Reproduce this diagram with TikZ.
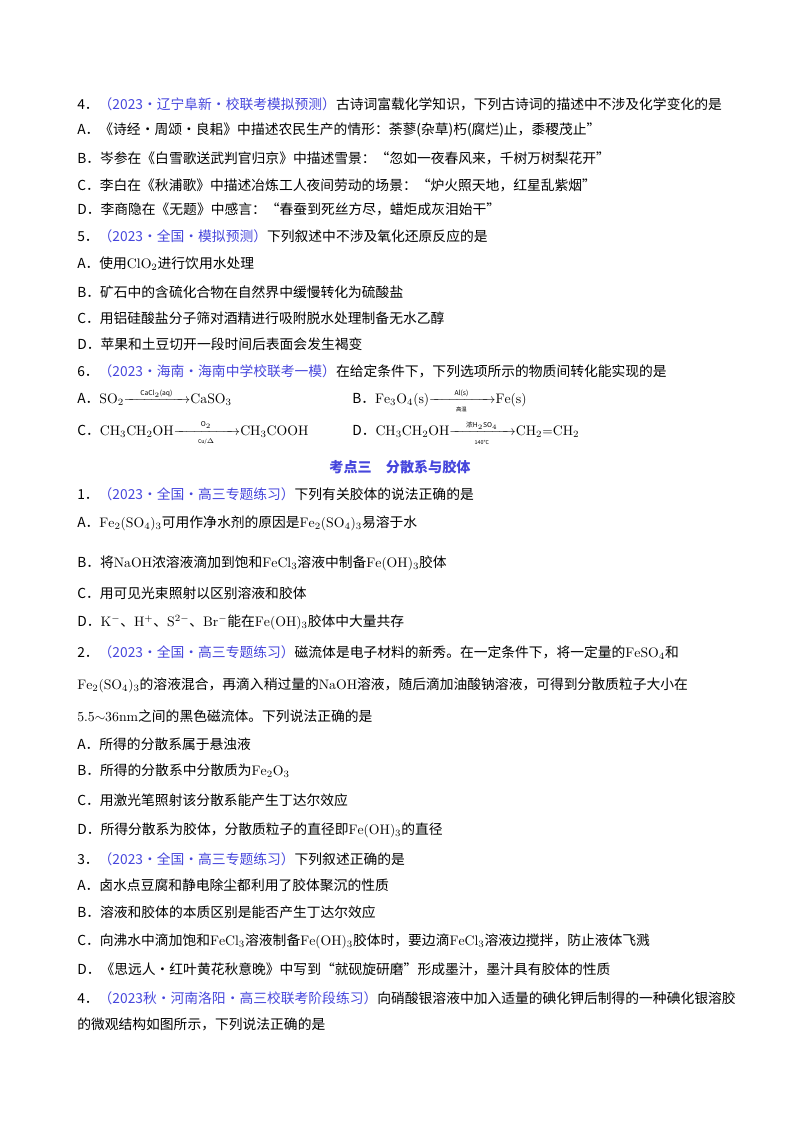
\documentclass[tikz,border=0pt]{standalone}
\usepackage{amsmath}
\usepackage{fontspec}
\newfontfamily\cjk{Noto Sans CJK SC}
\definecolor{src}{RGB}{70,70,220}
\newcommand{\sr}[1]{{\color{src}#1}}
\newcommand{\m}[1]{$\mathrm{#1}$}
\newcommand{\xr}[2]{$\xrightarrow[{\makebox[4.2em]{\cjk\fontsize{4}{4}\selectfont #2}}]{\makebox[4.2em]{\fontsize{5}{5}\selectfont #1}}$}
\begin{document}
\begin{tikzpicture}[x=0.74375pt,y=-0.74375pt,
 t/.style={anchor=west,inner sep=0pt,font=\cjk\fontsize{10.25}{12}\selectfont}]
\useasboundingbox (0,0) rectangle (800,1132);
\node[t] (l1) at (77,104) {4．\sr{（2023·辽宁阜新·校联考模拟预测）}古诗词富载化学知识，下列古诗词的描述中不涉及化学变化的是};
\node[t] (l2) at (77,130) {A．《诗经·周颂·良耜》中描述农民生产的情形：荼蓼(杂草)朽(腐烂)止，黍稷茂止”};
\node[t] (l3) at (77,158) {B．岑参在《白雪歌送武判官归京》中描述雪景：“忽如一夜春风来，千树万树梨花开”};
\node[t] (l4) at (77,185) {C．李白在《秋浦歌》中描述冶炼工人夜间劳动的场景：“炉火照天地，红星乱紫烟”};
\node[t] (l5) at (77,209) {D．李商隐在《无题》中感言：“春蚕到死丝方尽，蜡炬成灰泪始干”};
\node[t] (l6) at (77,236) {5．\sr{（2023·全国·模拟预测）}下列叙述中不涉及氧化还原反应的是};
\node[t] (l7) at (77,264) {A．使用\m{ClO_2}进行饮用水处理};
\node[t] (l8) at (77,292) {B．矿石中的含硫化合物在自然界中缓慢转化为硫酸盐};
\node[t] (l9) at (77,318) {C．用铝硅酸盐分子筛对酒精进行吸附脱水处理制备无水乙醇};
\node[t] (l10) at (77,344) {D．苹果和土豆切开一段时间后表面会发生褐变};
\node[t] (l11) at (77,371) {6．\sr{（2023·海南·海南中学校联考一模）}在给定条件下，下列选项所示的物质间转化能实现的是};
\node[t] (l12) at (77,401) {A．\m{SO_2}\xr{CaCl$_2$(aq)}{}\m{CaSO_3}};
\node[t] (l13) at (352,401) {B．\m{Fe_3O_4(s)}\xr{Al(s)}{高温}\m{Fe(s)}};
\node[t] (l14) at (77,433) {C．\m{CH_3CH_2OH}\xr{O$_2$}{Cu/$\Delta$}\m{CH_3COOH}};
\node[t] (l15) at (352,433) {D．\m{CH_3CH_2OH}\xr{浓H$_2$SO$_4$}{140℃}\m{CH_2{=}CH_2}};
\node[font=\cjk\bfseries\fontsize{10.5}{12}\selectfont,text=src] (h) at (400,467) {考点三\quad 分散系与胶体};
\node[t] (l16) at (77,494) {1．\sr{（2023·全国·高三专题练习）}下列有关胶体的说法正确的是};
\node[t] (l17) at (77,523) {A．\m{Fe_2(SO_4)_3}可用作净水剂的原因是\m{Fe_2(SO_4)_3}易溶于水};
\node[t] (l18) at (77,563) {B．将\m{NaOH}浓溶液滴加到饱和\m{FeCl_3}溶液中制备\m{Fe(OH)_3}胶体};
\node[t] (l19) at (77,593) {C．用可见光束照射以区别溶液和胶体};
\node[t] (l20) at (77,622) {D．\m{K^-}、\m{H^+}、\m{S^{2-}}、\m{Br^-}能在\m{Fe(OH)_3}胶体中大量共存};
\node[t] (l21) at (77,653) {2．\sr{（2023·全国·高三专题练习）}磁流体是电子材料的新秀。在一定条件下，将一定量的\m{FeSO_4}和};
\node[t] (l22) at (77,685) {\m{Fe_2(SO_4)_3}的溶液混合，再滴入稍过量的\m{NaOH}溶液，随后滴加油酸钠溶液，可得到分散质粒子大小在};
\node[t] (l23) at (77,716) {\m{5.5{\sim}36nm}之间的黑色磁流体。下列说法正确的是};
\node[t] (l24) at (77,744) {A．所得的分散系属于悬浊液};
\node[t] (l25) at (77,771) {B．所得的分散系中分散质为\m{Fe_2O_3}};
\node[t] (l26) at (77,800) {C．用激光笔照射该分散系能产生丁达尔效应};
\node[t] (l27) at (77,830) {D．所得分散系为胶体，分散质粒子的直径即\m{Fe(OH)_3}的直径};
\node[t] (l28) at (77,859) {3．\sr{（2023·全国·高三专题练习）}下列叙述正确的是};
\node[t] (l29) at (77,885) {A．卤水点豆腐和静电除尘都利用了胶体聚沉的性质};
\node[t] (l30) at (77,912) {B．溶液和胶体的本质区别是能否产生丁达尔效应};
\node[t] (l31) at (77,941) {C．向沸水中滴加饱和\m{FeCl_3}溶液制备\m{Fe(OH)_3}胶体时，要边滴\m{FeCl_3}溶液边搅拌，防止液体飞溅};
\node[t] (l32) at (77,969) {D．《思远人·红叶黄花秋意晚》中写到“就砚旋研磨”形成墨汁，墨汁具有胶体的性质};
\node[t] (l33) at (77,998) {4．\sr{（2023秋·河南洛阳·高三校联考阶段练习）}向硝酸银溶液中加入适量的碘化钾后制得的一种碘化银溶胶};
\node[t] (l34) at (77,1024) {的微观结构如图所示，下列说法正确的是};
\end{tikzpicture}
\end{document}
